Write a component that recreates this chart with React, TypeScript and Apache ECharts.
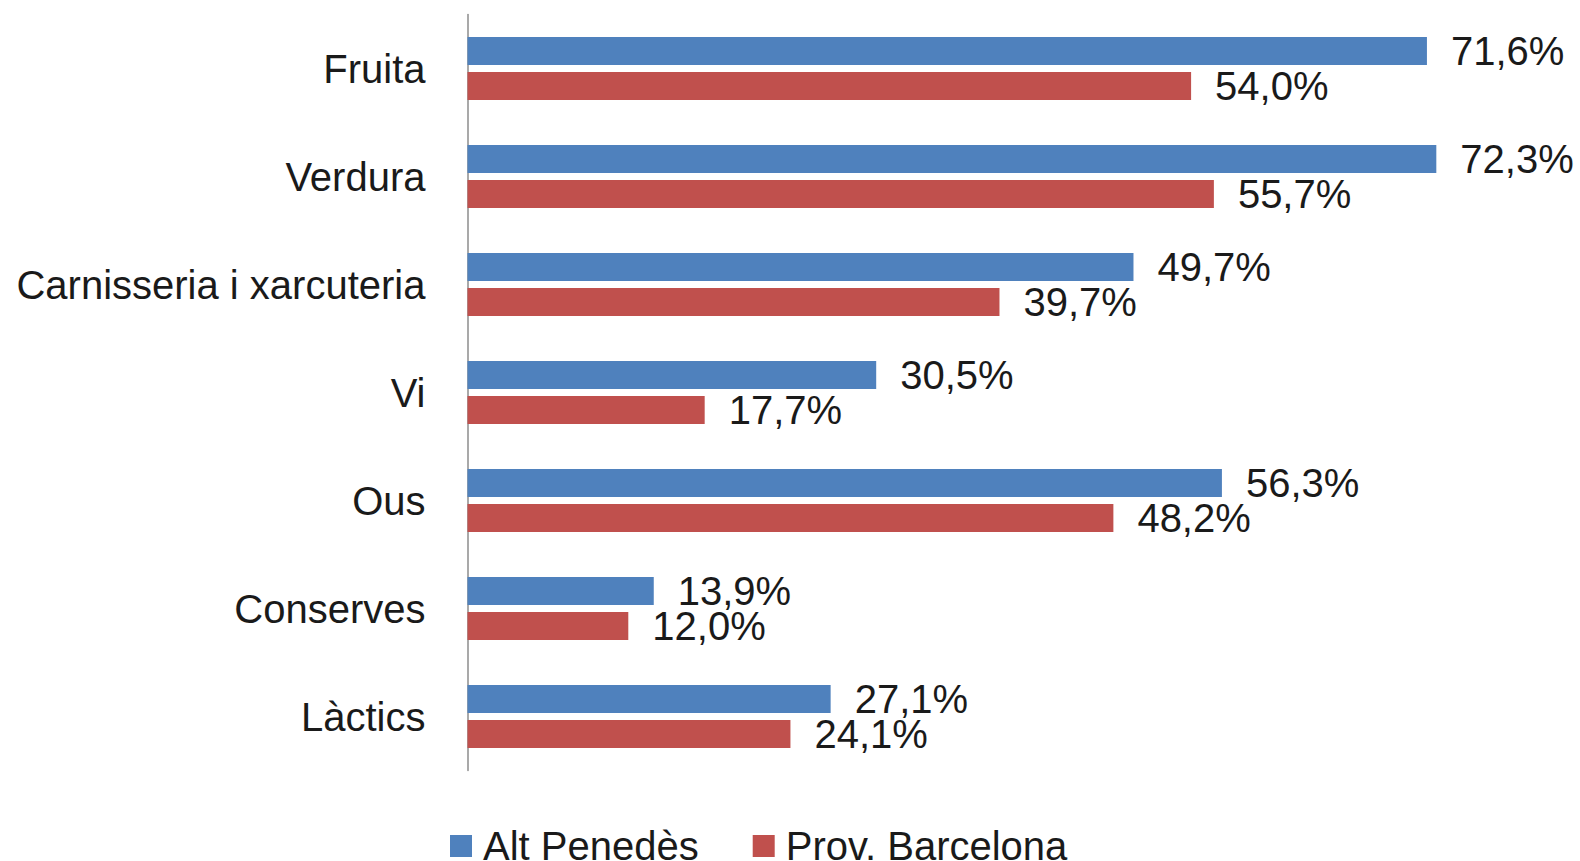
import React, { useEffect, useRef } from "react";
import * as echarts from "echarts";

const categories = [
  "Fruita",
  "Verdura",
  "Carnisseria i xarcuteria",
  "Vi",
  "Ous",
  "Conserves",
  "Làctics",
];
const altPenedes = [71.6, 72.3, 49.7, 30.5, 56.3, 13.9, 27.1];
const provBarcelona = [54.0, 55.7, 39.7, 17.7, 48.2, 12.0, 24.1];
const seriesNames = ["Alt Penedès", "Prov. Barcelona"];

const FONT = "'Liberation Sans', Arial, sans-serif";
const fmt = (v: number) => v.toFixed(1).replace(".", ",") + "%";

export default function App() {
  const ref = useRef<HTMLDivElement>(null);
  useEffect(() => {
    if (!ref.current) return;
    const chart = echarts.init(ref.current, null, { renderer: "svg" });
    const labelCfg = {
      show: true,
      position: "right" as const,
      distance: 24,
      fontSize: 40,
      fontFamily: FONT,
      color: "#1a1a1a",
      formatter: (p: any) => fmt(p.value),
    };
    chart.setOption({
      animation: false,
      backgroundColor: "#ffffff",
      grid: { left: 467.5, top: 14.5, height: 756, right: 40.5, containLabel: false },
      legend: {
        left: 450,
        top: 826,
        padding: 0,
        itemWidth: 22,
        itemHeight: 22,
        itemGap: 54,
        icon: "rect",
        textStyle: {
          fontSize: 40,
          fontFamily: FONT,
          color: "#1a1a1a",
          lineHeight: 40,
          padding: [0, 0, 0, 6],
        },
        data: seriesNames,
      },
      xAxis: {
        type: "value",
        min: 0,
        max: 80,
        show: false,
        splitLine: { show: false },
      },
      yAxis: {
        type: "category",
        inverse: true,
        data: categories,
        axisTick: { show: false },
        axisLine: { show: true, lineStyle: { color: "#8c8c8c", width: 1.5 } },
        axisLabel: {
          margin: 42,
          fontSize: 40,
          fontFamily: FONT,
          color: "#1a1a1a",
        },
      },
      series: [
        {
          name: seriesNames[0],
          type: "bar",
          data: altPenedes,
          barWidth: 28,
          barGap: "25%",
          itemStyle: { color: "#4F81BD" },
          label: labelCfg,
        },
        {
          name: seriesNames[1],
          type: "bar",
          data: provBarcelona,
          barWidth: 28,
          barGap: "25%",
          itemStyle: { color: "#C0504D" },
          label: labelCfg,
        },
      ],
    });
    return () => chart.dispose();
  }, []);
  return (
    <div
      ref={ref}
      style={{ position: "absolute", left: 0, top: 0, width: 1580, height: 861 }}
    />
  );
}
